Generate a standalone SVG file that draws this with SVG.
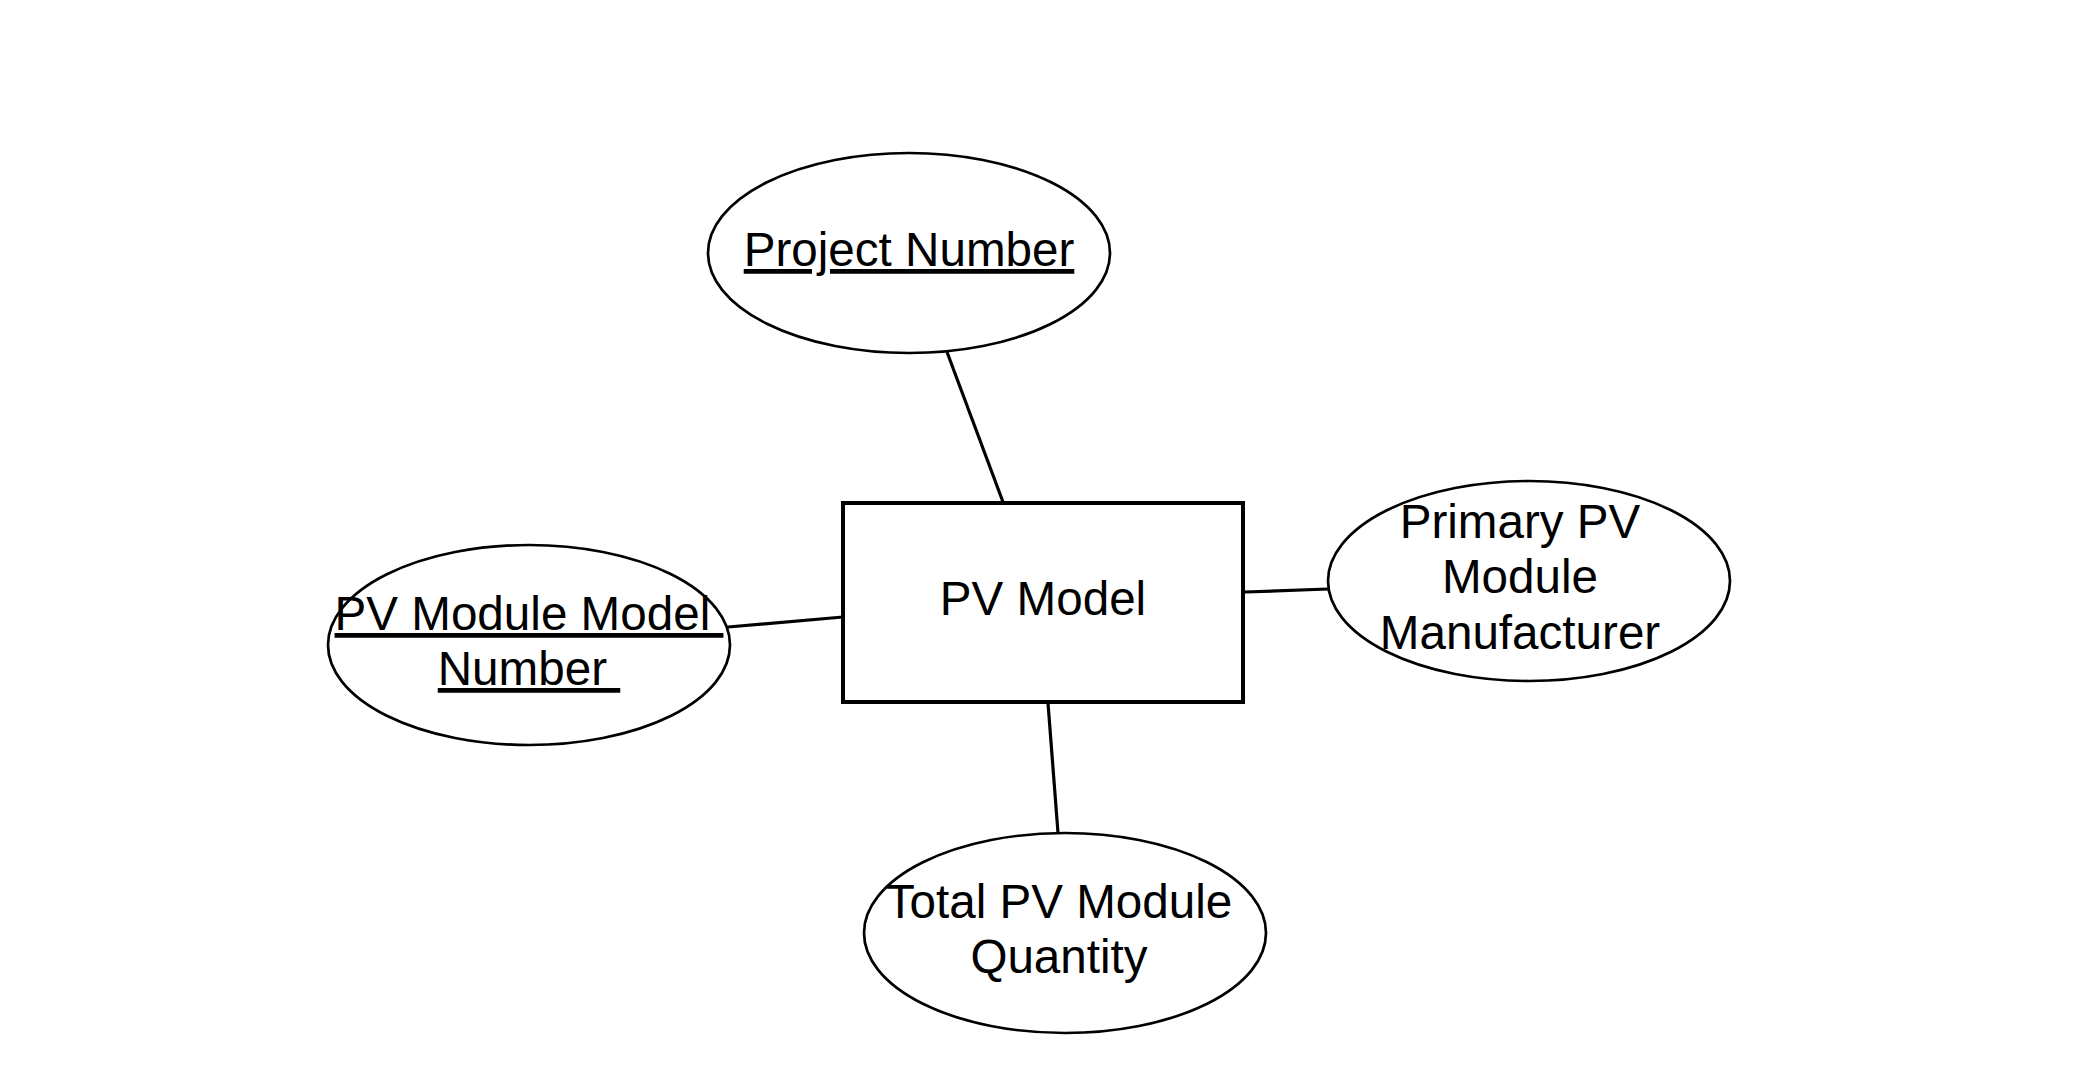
<svg xmlns="http://www.w3.org/2000/svg" width="2073" height="1070" viewBox="0 0 2073 1070">
<style>
text{font-family:"Liberation Sans",Arial,sans-serif;font-size:47.6px;fill:#000;text-anchor:middle}
.u{text-decoration:underline;text-decoration-thickness:3.5px;text-underline-offset:6px}
.attr{fill:#fff;stroke:#000;stroke-width:2.7}
.ent{fill:#fff;stroke:#000;stroke-width:4}
.conn line{stroke:#000;stroke-width:3.2}
</style>
<rect width="2073" height="1070" fill="#fff"/>
<g id="connectors" class="conn">
<line x1="947" y1="352" x2="1003" y2="502"/>
<line x1="1245" y1="592" x2="1328" y2="589"/>
<line x1="728" y1="627" x2="843" y2="617"/>
<line x1="1048" y1="703" x2="1058" y2="833"/>
</g>
<g id="pv-model">
<rect class="ent" x="843" y="503" width="400" height="199"/>
<text x="1043" y="615">PV Model</text>
</g>
<g id="project-number">
<ellipse class="attr" cx="909" cy="253" rx="201" ry="100"/>
<text class="u" x="909" y="266">Project Number</text>
</g>
<g id="pv-module-model-number">
<ellipse class="attr" cx="529" cy="645" rx="201" ry="100"/>
<text class="u" x="529" y="630">PV Module Model&#160;</text>
<text class="u" x="529" y="685">Number&#160;</text>
</g>
<g id="primary-pv-module-manufacturer">
<ellipse class="attr" cx="1529" cy="581" rx="201" ry="100"/>
<text x="1520" y="538">Primary PV</text>
<text x="1520" y="593">Module</text>
<text x="1520" y="649">Manufacturer</text>
</g>
<g id="total-pv-module-quantity">
<ellipse class="attr" cx="1065" cy="933" rx="201" ry="100"/>
<text x="1059" y="918">Total PV Module</text>
<text x="1059" y="973">Quantity</text>
</g>
</svg>
